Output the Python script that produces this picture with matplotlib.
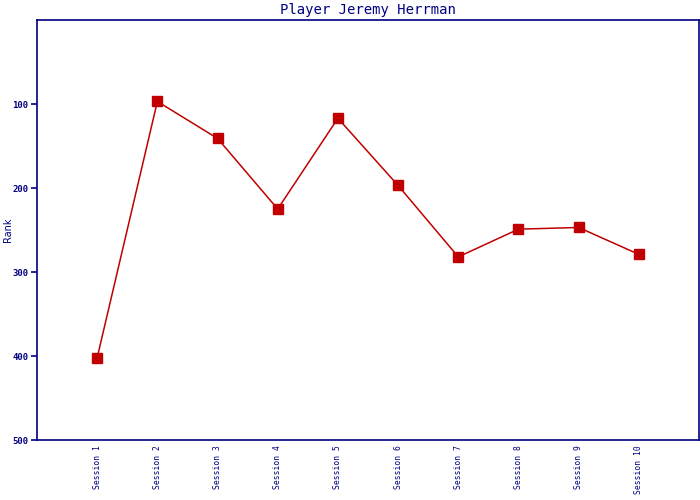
import matplotlib
matplotlib.use("Agg")
import matplotlib.pyplot as plt

# Data
sessions = ["Session 1", "Session 2", "Session 3", "Session 4", "Session 5",
            "Session 6", "Session 7", "Session 8", "Session 9", "Session 10"]
ranks = [402, 97, 141, 225, 117, 197, 282, 249, 247, 279]
y_ticks = [100, 200, 300, 400, 500]

navy = "#000080"
red = "#c00000"

fig = plt.figure(figsize=(7, 5), dpi=100)
ax = fig.add_axes([37 / 700, 60 / 500, 662 / 700, 420 / 500])

x = list(range(1, len(sessions) + 1))
ax.plot(x, ranks, color=red, linewidth=1.1, marker="s", markersize=7,
        markerfacecolor=red, markeredgecolor=red)

ax.set_xlim(0, len(sessions) + 1)
ax.set_ylim(500, 0)
ax.set_yticks(y_ticks)
ax.set_yticklabels([str(v) for v in y_ticks], family="DejaVu Sans Mono",
                   fontsize=6.5, fontweight="bold", color=navy)
ax.set_xticks(x)
ax.set_xticklabels(sessions, rotation=90, family="DejaVu Sans Mono",
                   fontsize=5.8, color=navy)
ax.tick_params(axis="x", length=0, pad=4)
ax.tick_params(axis="y", length=4, width=1.2, color=navy, pad=2)

for s in ax.spines.values():
    s.set_color(navy)
    s.set_linewidth(1.2)

ax.set_ylabel("Rank", fontsize=7, color=navy)
ax.yaxis.set_label_coords(-0.037, 0.5)
ax.set_title("Player Jeremy Herrman", family="DejaVu Sans Mono",
             fontsize=10, color=navy, pad=4)

fig.savefig("out.png", dpi=100)
